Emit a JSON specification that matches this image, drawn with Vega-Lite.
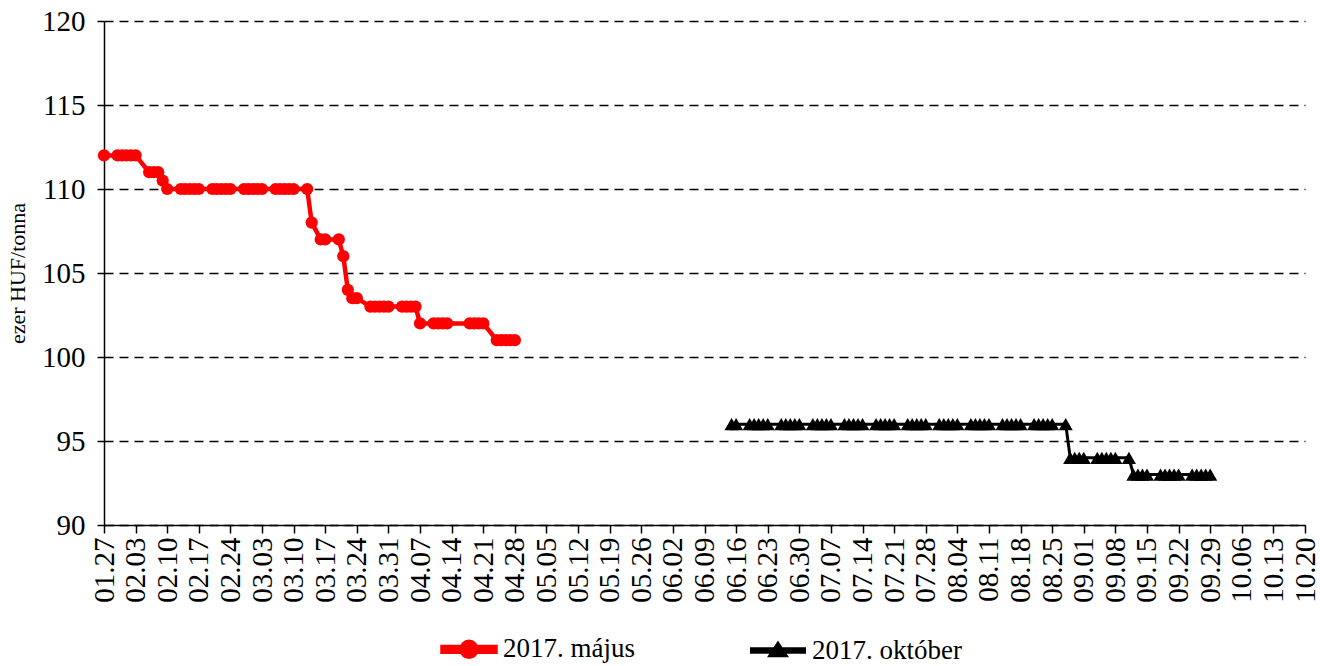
{
  "$schema": "https://vega.github.io/schema/vega-lite/v6.json",
  "autosize": {"type": "none"},
  "width": 1201,
  "height": 504,
  "padding": {"left": 104, "top": 21, "right": 15, "bottom": 141},
  "background": "white",
  "config": {
    "view": {"stroke": null},
    "font": "Liberation Serif, Times New Roman, Times, serif",
    "axis": {"labelFont": "Liberation Serif, Times New Roman, Times, serif", "titleFont": "Liberation Serif, Times New Roman, Times, serif", "labelColor": "black", "titleColor": "black", "domainColor": "black", "tickColor": "black", "domainWidth": 1.5, "tickWidth": 1.5},
    "legend": {"labelFont": "Liberation Serif, Times New Roman, Times, serif", "labelColor": "black", "padding": 0}
  },
  "datasets": {
    "main": [
      {"d": "2017-01-27", "v": 112, "s": "2017. május"},
      {"d": "2017-01-30", "v": 112, "s": "2017. május"},
      {"d": "2017-01-31", "v": 112, "s": "2017. május"},
      {"d": "2017-02-01", "v": 112, "s": "2017. május"},
      {"d": "2017-02-02", "v": 112, "s": "2017. május"},
      {"d": "2017-02-03", "v": 112, "s": "2017. május"},
      {"d": "2017-02-06", "v": 111, "s": "2017. május"},
      {"d": "2017-02-07", "v": 111, "s": "2017. május"},
      {"d": "2017-02-08", "v": 111, "s": "2017. május"},
      {"d": "2017-02-09", "v": 110.5, "s": "2017. május"},
      {"d": "2017-02-10", "v": 110, "s": "2017. május"},
      {"d": "2017-02-13", "v": 110, "s": "2017. május"},
      {"d": "2017-02-14", "v": 110, "s": "2017. május"},
      {"d": "2017-02-15", "v": 110, "s": "2017. május"},
      {"d": "2017-02-16", "v": 110, "s": "2017. május"},
      {"d": "2017-02-17", "v": 110, "s": "2017. május"},
      {"d": "2017-02-20", "v": 110, "s": "2017. május"},
      {"d": "2017-02-21", "v": 110, "s": "2017. május"},
      {"d": "2017-02-22", "v": 110, "s": "2017. május"},
      {"d": "2017-02-23", "v": 110, "s": "2017. május"},
      {"d": "2017-02-24", "v": 110, "s": "2017. május"},
      {"d": "2017-02-27", "v": 110, "s": "2017. május"},
      {"d": "2017-02-28", "v": 110, "s": "2017. május"},
      {"d": "2017-03-01", "v": 110, "s": "2017. május"},
      {"d": "2017-03-02", "v": 110, "s": "2017. május"},
      {"d": "2017-03-03", "v": 110, "s": "2017. május"},
      {"d": "2017-03-06", "v": 110, "s": "2017. május"},
      {"d": "2017-03-07", "v": 110, "s": "2017. május"},
      {"d": "2017-03-08", "v": 110, "s": "2017. május"},
      {"d": "2017-03-09", "v": 110, "s": "2017. május"},
      {"d": "2017-03-10", "v": 110, "s": "2017. május"},
      {"d": "2017-03-13", "v": 110, "s": "2017. május"},
      {"d": "2017-03-14", "v": 108, "s": "2017. május"},
      {"d": "2017-03-16", "v": 107, "s": "2017. május"},
      {"d": "2017-03-17", "v": 107, "s": "2017. május"},
      {"d": "2017-03-20", "v": 107, "s": "2017. május"},
      {"d": "2017-03-21", "v": 106, "s": "2017. május"},
      {"d": "2017-03-22", "v": 104, "s": "2017. május"},
      {"d": "2017-03-23", "v": 103.5, "s": "2017. május"},
      {"d": "2017-03-24", "v": 103.5, "s": "2017. május"},
      {"d": "2017-03-27", "v": 103, "s": "2017. május"},
      {"d": "2017-03-28", "v": 103, "s": "2017. május"},
      {"d": "2017-03-29", "v": 103, "s": "2017. május"},
      {"d": "2017-03-30", "v": 103, "s": "2017. május"},
      {"d": "2017-03-31", "v": 103, "s": "2017. május"},
      {"d": "2017-04-03", "v": 103, "s": "2017. május"},
      {"d": "2017-04-04", "v": 103, "s": "2017. május"},
      {"d": "2017-04-05", "v": 103, "s": "2017. május"},
      {"d": "2017-04-06", "v": 103, "s": "2017. május"},
      {"d": "2017-04-07", "v": 102, "s": "2017. május"},
      {"d": "2017-04-10", "v": 102, "s": "2017. május"},
      {"d": "2017-04-11", "v": 102, "s": "2017. május"},
      {"d": "2017-04-12", "v": 102, "s": "2017. május"},
      {"d": "2017-04-13", "v": 102, "s": "2017. május"},
      {"d": "2017-04-18", "v": 102, "s": "2017. május"},
      {"d": "2017-04-19", "v": 102, "s": "2017. május"},
      {"d": "2017-04-20", "v": 102, "s": "2017. május"},
      {"d": "2017-04-21", "v": 102, "s": "2017. május"},
      {"d": "2017-04-24", "v": 101, "s": "2017. május"},
      {"d": "2017-04-25", "v": 101, "s": "2017. május"},
      {"d": "2017-04-26", "v": 101, "s": "2017. május"},
      {"d": "2017-04-27", "v": 101, "s": "2017. május"},
      {"d": "2017-04-28", "v": 101, "s": "2017. május"},
      {"d": "2017-06-15", "v": 96, "s": "2017. október"},
      {"d": "2017-06-16", "v": 96, "s": "2017. október"},
      {"d": "2017-06-19", "v": 96, "s": "2017. október"},
      {"d": "2017-06-20", "v": 96, "s": "2017. október"},
      {"d": "2017-06-21", "v": 96, "s": "2017. október"},
      {"d": "2017-06-22", "v": 96, "s": "2017. október"},
      {"d": "2017-06-23", "v": 96, "s": "2017. október"},
      {"d": "2017-06-26", "v": 96, "s": "2017. október"},
      {"d": "2017-06-27", "v": 96, "s": "2017. október"},
      {"d": "2017-06-28", "v": 96, "s": "2017. október"},
      {"d": "2017-06-29", "v": 96, "s": "2017. október"},
      {"d": "2017-06-30", "v": 96, "s": "2017. október"},
      {"d": "2017-07-03", "v": 96, "s": "2017. október"},
      {"d": "2017-07-04", "v": 96, "s": "2017. október"},
      {"d": "2017-07-05", "v": 96, "s": "2017. október"},
      {"d": "2017-07-06", "v": 96, "s": "2017. október"},
      {"d": "2017-07-07", "v": 96, "s": "2017. október"},
      {"d": "2017-07-10", "v": 96, "s": "2017. október"},
      {"d": "2017-07-11", "v": 96, "s": "2017. október"},
      {"d": "2017-07-12", "v": 96, "s": "2017. október"},
      {"d": "2017-07-13", "v": 96, "s": "2017. október"},
      {"d": "2017-07-14", "v": 96, "s": "2017. október"},
      {"d": "2017-07-17", "v": 96, "s": "2017. október"},
      {"d": "2017-07-18", "v": 96, "s": "2017. október"},
      {"d": "2017-07-19", "v": 96, "s": "2017. október"},
      {"d": "2017-07-20", "v": 96, "s": "2017. október"},
      {"d": "2017-07-21", "v": 96, "s": "2017. október"},
      {"d": "2017-07-24", "v": 96, "s": "2017. október"},
      {"d": "2017-07-25", "v": 96, "s": "2017. október"},
      {"d": "2017-07-26", "v": 96, "s": "2017. október"},
      {"d": "2017-07-27", "v": 96, "s": "2017. október"},
      {"d": "2017-07-28", "v": 96, "s": "2017. október"},
      {"d": "2017-07-31", "v": 96, "s": "2017. október"},
      {"d": "2017-08-01", "v": 96, "s": "2017. október"},
      {"d": "2017-08-02", "v": 96, "s": "2017. október"},
      {"d": "2017-08-03", "v": 96, "s": "2017. október"},
      {"d": "2017-08-04", "v": 96, "s": "2017. október"},
      {"d": "2017-08-07", "v": 96, "s": "2017. október"},
      {"d": "2017-08-08", "v": 96, "s": "2017. október"},
      {"d": "2017-08-09", "v": 96, "s": "2017. október"},
      {"d": "2017-08-10", "v": 96, "s": "2017. október"},
      {"d": "2017-08-11", "v": 96, "s": "2017. október"},
      {"d": "2017-08-14", "v": 96, "s": "2017. október"},
      {"d": "2017-08-15", "v": 96, "s": "2017. október"},
      {"d": "2017-08-16", "v": 96, "s": "2017. október"},
      {"d": "2017-08-17", "v": 96, "s": "2017. október"},
      {"d": "2017-08-18", "v": 96, "s": "2017. október"},
      {"d": "2017-08-21", "v": 96, "s": "2017. október"},
      {"d": "2017-08-22", "v": 96, "s": "2017. október"},
      {"d": "2017-08-23", "v": 96, "s": "2017. október"},
      {"d": "2017-08-24", "v": 96, "s": "2017. október"},
      {"d": "2017-08-25", "v": 96, "s": "2017. október"},
      {"d": "2017-08-28", "v": 96, "s": "2017. október"},
      {"d": "2017-08-29", "v": 94, "s": "2017. október"},
      {"d": "2017-08-30", "v": 94, "s": "2017. október"},
      {"d": "2017-08-31", "v": 94, "s": "2017. október"},
      {"d": "2017-09-01", "v": 94, "s": "2017. október"},
      {"d": "2017-09-04", "v": 94, "s": "2017. október"},
      {"d": "2017-09-05", "v": 94, "s": "2017. október"},
      {"d": "2017-09-06", "v": 94, "s": "2017. október"},
      {"d": "2017-09-07", "v": 94, "s": "2017. október"},
      {"d": "2017-09-08", "v": 94, "s": "2017. október"},
      {"d": "2017-09-11", "v": 94, "s": "2017. október"},
      {"d": "2017-09-12", "v": 93, "s": "2017. október"},
      {"d": "2017-09-13", "v": 93, "s": "2017. október"},
      {"d": "2017-09-14", "v": 93, "s": "2017. október"},
      {"d": "2017-09-15", "v": 93, "s": "2017. október"},
      {"d": "2017-09-18", "v": 93, "s": "2017. október"},
      {"d": "2017-09-19", "v": 93, "s": "2017. október"},
      {"d": "2017-09-20", "v": 93, "s": "2017. október"},
      {"d": "2017-09-21", "v": 93, "s": "2017. október"},
      {"d": "2017-09-22", "v": 93, "s": "2017. október"},
      {"d": "2017-09-25", "v": 93, "s": "2017. október"},
      {"d": "2017-09-26", "v": 93, "s": "2017. október"},
      {"d": "2017-09-27", "v": 93, "s": "2017. október"},
      {"d": "2017-09-28", "v": 93, "s": "2017. október"},
      {"d": "2017-09-29", "v": 93, "s": "2017. október"}
    ]
  },
  "data": {"name": "main"},
  "encoding": {
    "x": {
      "field": "d", "type": "temporal",
      "scale": {"type": "utc", "domain": [{"year": 2017, "month": 1, "date": 27, "utc": true}, {"year": 2017, "month": 10, "date": 20, "utc": true}]},
      "axis": {
        "title": null, "labelExpr": "utcFormat(datum.value, '%m.%d')", "grid": false,
        "labelFont": "Liberation Serif, Times New Roman, Times, serif",
        "labelAngle": -90, "labelAlign": "right", "labelBaseline": "middle",
        "labelFontSize": 29, "labelPadding": 4, "tickSize": 8, "labelOverlap": false, "labelBound": false,
        "values": [
          {"year": 2017, "month": 1, "date": 27, "utc": true},
          {"year": 2017, "month": 2, "date": 3, "utc": true},
          {"year": 2017, "month": 2, "date": 10, "utc": true},
          {"year": 2017, "month": 2, "date": 17, "utc": true},
          {"year": 2017, "month": 2, "date": 24, "utc": true},
          {"year": 2017, "month": 3, "date": 3, "utc": true},
          {"year": 2017, "month": 3, "date": 10, "utc": true},
          {"year": 2017, "month": 3, "date": 17, "utc": true},
          {"year": 2017, "month": 3, "date": 24, "utc": true},
          {"year": 2017, "month": 3, "date": 31, "utc": true},
          {"year": 2017, "month": 4, "date": 7, "utc": true},
          {"year": 2017, "month": 4, "date": 14, "utc": true},
          {"year": 2017, "month": 4, "date": 21, "utc": true},
          {"year": 2017, "month": 4, "date": 28, "utc": true},
          {"year": 2017, "month": 5, "date": 5, "utc": true},
          {"year": 2017, "month": 5, "date": 12, "utc": true},
          {"year": 2017, "month": 5, "date": 19, "utc": true},
          {"year": 2017, "month": 5, "date": 26, "utc": true},
          {"year": 2017, "month": 6, "date": 2, "utc": true},
          {"year": 2017, "month": 6, "date": 9, "utc": true},
          {"year": 2017, "month": 6, "date": 16, "utc": true},
          {"year": 2017, "month": 6, "date": 23, "utc": true},
          {"year": 2017, "month": 6, "date": 30, "utc": true},
          {"year": 2017, "month": 7, "date": 7, "utc": true},
          {"year": 2017, "month": 7, "date": 14, "utc": true},
          {"year": 2017, "month": 7, "date": 21, "utc": true},
          {"year": 2017, "month": 7, "date": 28, "utc": true},
          {"year": 2017, "month": 8, "date": 4, "utc": true},
          {"year": 2017, "month": 8, "date": 11, "utc": true},
          {"year": 2017, "month": 8, "date": 18, "utc": true},
          {"year": 2017, "month": 8, "date": 25, "utc": true},
          {"year": 2017, "month": 9, "date": 1, "utc": true},
          {"year": 2017, "month": 9, "date": 8, "utc": true},
          {"year": 2017, "month": 9, "date": 15, "utc": true},
          {"year": 2017, "month": 9, "date": 22, "utc": true},
          {"year": 2017, "month": 9, "date": 29, "utc": true},
          {"year": 2017, "month": 10, "date": 6, "utc": true},
          {"year": 2017, "month": 10, "date": 13, "utc": true},
          {"year": 2017, "month": 10, "date": 20, "utc": true}
        ]
      }
    },
    "y": {
      "field": "v", "type": "quantitative",
      "scale": {"domain": [90, 120], "nice": false, "zero": false},
      "axis": {
        "title": "ezer HUF/tonna", "titleFontSize": 22, "titleFontWeight": "normal", "titlePadding": 12,
        "titleFont": "Liberation Serif, Times New Roman, Times, serif",
        "labelFont": "Liberation Serif, Times New Roman, Times, serif",
        "values": [90, 95, 100, 105, 110, 115, 120],
        "labelFontSize": 29, "labelPadding": 12, "tickSize": 7,
        "grid": true, "gridColor": "black", "gridDash": [9, 6], "gridWidth": 1.5, "gridOpacity": 1
      }
    }
  },
  "layer": [
    {
      "mark": {"type": "line", "interpolate": "linear"},
      "encoding": {
        "color": {
          "field": "s", "type": "nominal",
          "scale": {"domain": ["2017. május", "2017. október"], "range": ["#ff0000", "#000000"]},
          "legend": {
            "title": null, "orient": "none", "direction": "horizontal", "columns": 2,
            "legendX": 336, "legendY": 599, "columnPadding": 110,
            "labelFontSize": 27, "labelOffset": 5, "symbolSize": 2809, "labelLimit": 400,
            "encode": {
              "symbols": {
                "update": {
                  "shape": {"signal": "datum.value === '2017. május' ? 'M-1,-0.09H1V0.09H-1Z M-0.28,0A0.28,0.28 0 1,1 0.28,0A0.28,0.28 0 1,1 -0.28,0Z' : 'M-1,-0.07H1V0.07H-1Z M0,-0.27L0.31,0.2L-0.31,0.2Z'"},
                  "fill": {"signal": "datum.value === '2017. május' ? '#ff0000' : '#000000'"},
                  "stroke": {"value": "transparent"},
                  "strokeWidth": {"value": 0},
                  "size": {"value": 2809},
                  "opacity": {"value": 1}
                }
              }
            }
          }
        },
        "strokeWidth": {
          "field": "s", "type": "nominal",
          "scale": {"domain": ["2017. május", "2017. október"], "range": [4.5, 3]},
          "legend": null
        }
      }
    },
    {
      "transform": [{"filter": "datum.s === '2017. május'"}],
      "mark": {"type": "point", "filled": true, "opacity": 1, "shape": "circle", "color": "#ff0000", "size": 150}
    },
    {
      "transform": [{"filter": "datum.s === '2017. október'"}],
      "mark": {"type": "point", "filled": true, "opacity": 1, "shape": "triangle-up", "color": "#000000", "size": 200}
    }
  ]
}
